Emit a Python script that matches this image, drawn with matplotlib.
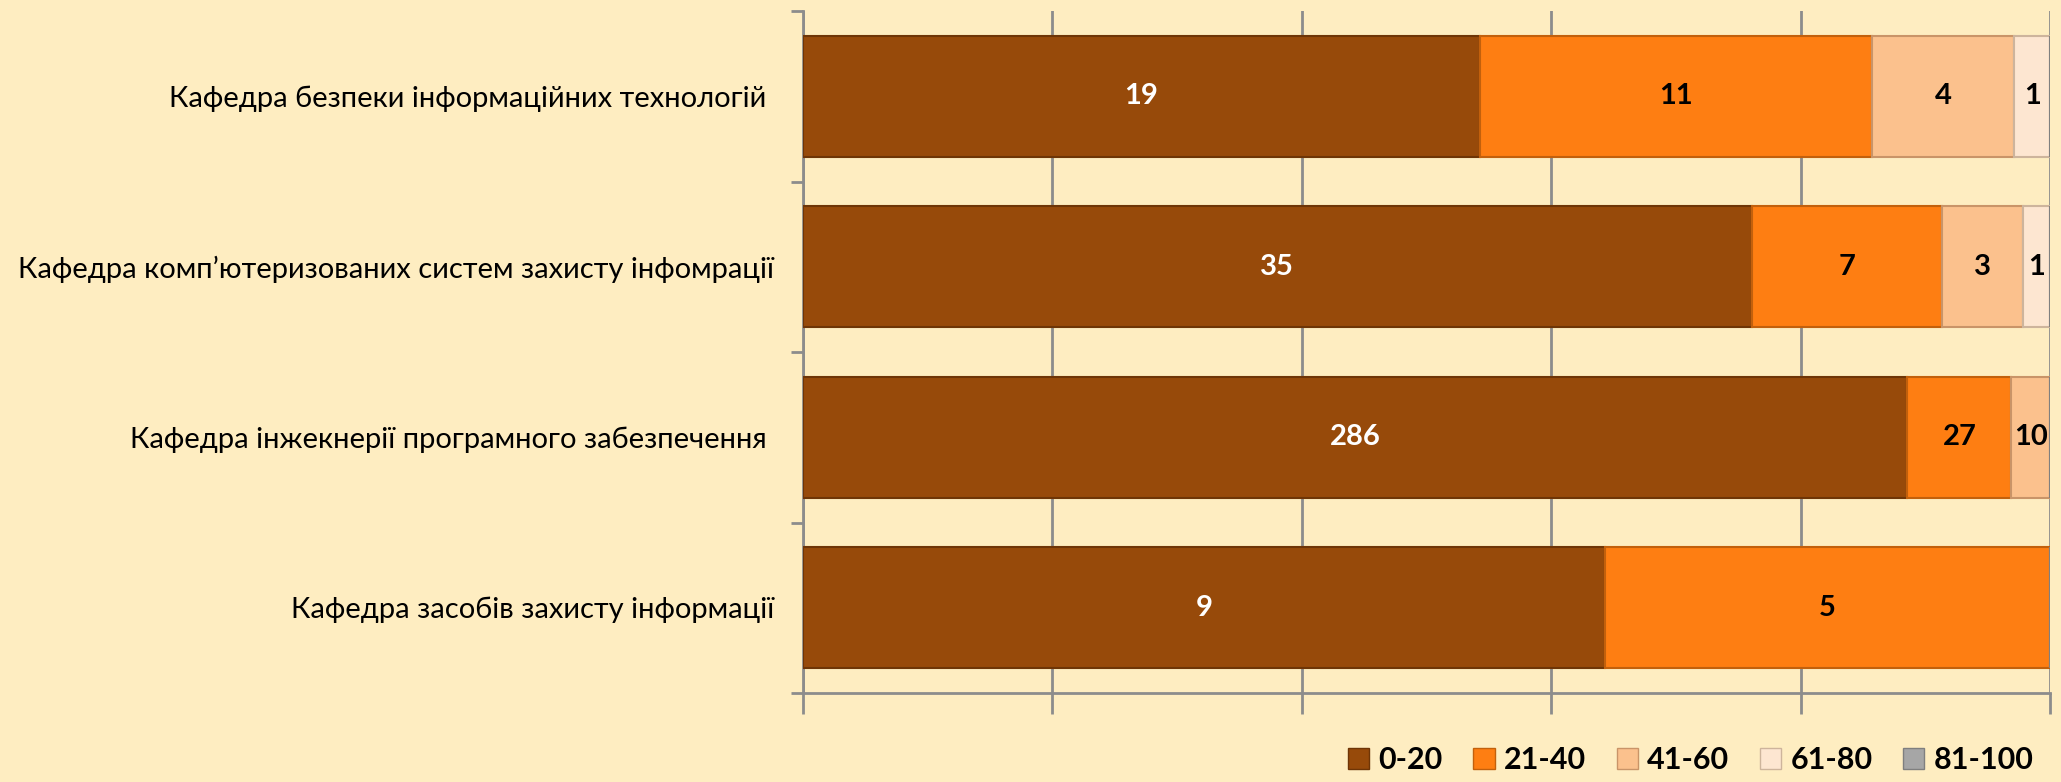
import matplotlib.pyplot as plt
from matplotlib.patches import Patch

plt.rcParams['font.family'] = ['Lato', 'DejaVu Sans']

departments = [
    'Кафедра безпеки інформаційних технологій ',
    'Кафедра комп’ютеризованих систем захисту інфомрації',
    'Кафедра інжекнерії програмного забезпечення ',
    'Кафедра засобів захисту інформації',
]
groups = ['0-20', '21-40', '41-60', '61-80', '81-100']
counts = [
    [19, 11, 4, 1, 0],
    [35, 7, 3, 1, 0],
    [286, 27, 10, 0, 0],
    [9, 5, 0, 0, 0],
]

colors = ['#974a0a', '#fe7e12', '#fbc18d', '#fde6d1', '#a6a6a6']
edges = ['#6e3506', '#c2600c', '#c99468', '#cdb49c', '#7f7f7f']
text_colors = ['white', 'black', 'black', 'black', 'black']
bg = '#feedc1'

fig = plt.figure(figsize=(20.61, 7.82), dpi=100, facecolor=bg)
ax = fig.add_axes([0.3896, 0.1138, 0.9947 - 0.3896, 0.9859 - 0.1138])
ax.set_facecolor(bg)

ypos = list(range(len(departments)))
left = [0.0] * len(departments)
totals = [sum(r) for r in counts]
for j, g in enumerate(groups):
    widths = [counts[i][j] / totals[i] * 100 for i in range(len(departments))]
    bars = ax.barh(ypos, widths, left=left, height=0.71, color=colors[j],
                   edgecolor=edges[j], linewidth=1.5, label=g, zorder=3)
    for i, b in enumerate(bars):
        v = counts[i][j]
        if v > 0:
            ax.text(left[i] + widths[i] / 2, ypos[i], str(v), ha='center', va='center',
                    fontsize=21, fontweight='bold', color=text_colors[j], zorder=4)
    left = [left[i] + widths[i] for i in range(len(departments))]

ax.set_xlim(0, 100)
ax.set_ylim(len(departments) - 0.5, -0.5)
ax.set_xticks([0, 20, 40, 60, 80, 100])
ax.set_xticklabels([])
ax.xaxis.grid(True, color='#8c8c8c', linewidth=2, zorder=0)
ax.tick_params(axis='x', length=15, width=2, color='#8c8c8c')

ax.set_yticks(ypos)
ax.set_yticklabels(departments, fontsize=21)
ax.set_yticks([k - 0.5 for k in range(len(departments) + 1)], minor=True)
ax.tick_params(axis='y', which='major', length=0, pad=21)
ax.tick_params(axis='y', which='minor', length=9, width=2, color='#8c8c8c')

for s in ['top', 'right']:
    ax.spines[s].set_visible(False)
for s in ['left', 'bottom']:
    ax.spines[s].set_color('#8c8c8c')
    ax.spines[s].set_linewidth(2)

handles = [Patch(facecolor=colors[j], edgecolor=edges[j], label=groups[j]) for j in range(len(groups))]
fig.legend(handles=handles, loc='center right', bbox_to_anchor=(1.0, 0.028), ncol=5,
           frameon=False, prop={'size': 22, 'weight': 'bold'}, handlelength=0.7,
           handleheight=0.7, handletextpad=0.3, columnspacing=1.0)

fig.savefig('out.png', dpi=100, facecolor=bg)
